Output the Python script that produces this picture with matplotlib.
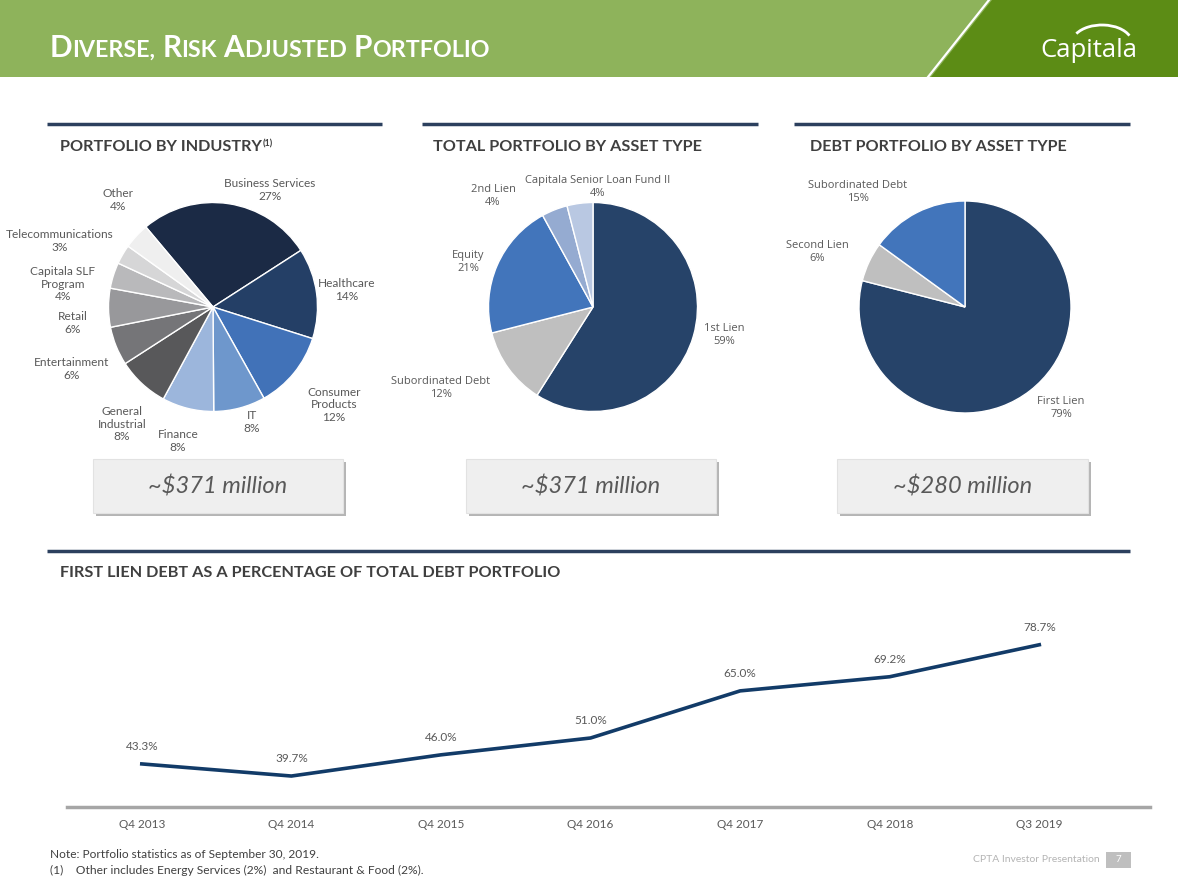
import matplotlib
matplotlib.use('Agg')
import matplotlib.pyplot as plt
from matplotlib.patches import Rectangle, Polygon, Arc

# ---- data ----
ind_names = ['Business Services', 'Healthcare', 'Consumer\nProducts', 'IT', 'Finance',
             'General\nIndustrial', 'Entertainment', 'Retail', 'Capitala SLF\nProgram',
             'Telecommunications', 'Other']
ind_pct = [27, 14, 12, 8, 8, 8, 6, 6, 4, 3, 4]

asset_names = ['1st Lien', 'Subordinated Debt', 'Equity', '2nd Lien', 'Capitala Senior Loan Fund II']
asset_pct = [59, 12, 21, 4, 4]

debt_names = ['First Lien', 'Second Lien', 'Subordinated Debt']
debt_pct = [79, 6, 15]

totals = ['~$371 million', '~$371 million', '~$280 million']

periods = ['Q4 2013', 'Q4 2014', 'Q4 2015', 'Q4 2016', 'Q4 2017', 'Q4 2018', 'Q3 2019']
first_lien = [43.3, 39.7, 46.0, 51.0, 65.0, 69.2, 78.7]

# ---- styles / layout ----
ind_colors = ['#1b2a45', '#243f66', '#4172b8', '#6e97cc', '#9cb6dc', '#58585a',
              '#757578', '#98989b', '#b9b9bb', '#d6d6d7', '#efefef']
asset_colors = ['#264369', '#bfbfbf', '#4275bb', '#95abd1', '#b9c8e2']
debt_colors = ['#264369', '#bfbfbf', '#4275bb']

# label offsets from pie centre, in pixels (dx right, dy up)
ind_lab = [(57, 117), (134, 17), (121, -98), (39, -115), (-35, -134), (-91, -117),
           (-141, -62), (-140, -16), (-150, 23), (-153, 66), (-95, 107)]
asset_lab = [(131, -28), (-152, -81), (-125, 45), (-100, 111), (5, 120)]
debt_lab = [(96, -101), (-148, 55), (-107, 115)]

W, H = 1178, 885
NAVY = '#2c405e'
GREY_TXT = '#595959'

fig = plt.figure(figsize=(W / 100, H / 100), dpi=100)
bg = fig.add_axes([0, 0, 1, 1])
bg.set_xlim(0, W)
bg.set_ylim(H, 0)
bg.axis('off')
fig.canvas.draw()
rend = fig.canvas.get_renderer()


def box(x0, y0, x1, y1):
    return [x0 / W, 1 - y1 / H, (x1 - x0) / W, (y1 - y0) / H]


def fit(x, y, s, width, size=10, **kw):
    t = bg.text(x, y, s, fontsize=size, **kw)
    w = t.get_window_extent(rend).width
    t.set_fontsize(size * width / w)
    return t


# header band
bg.add_patch(Rectangle((0, 0), W, 77, color='#8eb35b', lw=0))
bg.add_patch(Polygon([(931, 77), (992, 0), (W, 0), (W, 77)], color='#5c8c15', lw=0))
bg.plot([928, 989], [77, 0], color='white', lw=1.6)


def smallcaps(x, y, s, big):
    out = []
    cx = x
    for word in s.split(' '):
        for part, size in ((word[0], big), (word[1:].upper(), big * 0.78)):
            if not part:
                continue
            t = bg.text(cx, y, part, fontsize=size, va='baseline', color='white',
                        family='Lato', weight='bold')
            cx += t.get_window_extent(rend).width
            out.append(t)
        cx += big * 0.22 * 100 / 72
    return out, cx - x


txts, tw = smallcaps(50, 57, 'Diverse, Risk Adjusted Portfolio', 20)
for t in txts:
    t.remove()
smallcaps(50, 57, 'Diverse, Risk Adjusted Portfolio', 20 * 447 / tw)

# logo
fit(1040, 57, 'Capitala', 97, size=18, color='white', family='Open Sans', va='baseline')
bg.add_patch(Arc((1102, 43), 60, 36, theta1=200, theta2=345, color='white', lw=2))

# section rules and titles
for x0, x1 in [(47, 382), (422, 758), (794, 1130)]:
    bg.plot([x0, x1], [124, 124], color=NAVY, lw=2.5, solid_capstyle='butt')
bg.plot([47, 1130], [551, 551], color=NAVY, lw=2.5, solid_capstyle='butt')

tkw = dict(color='#3f3f3f', family='Lato', weight='bold', va='center')
fit(60, 147, 'PORTFOLIO BY INDUSTRY', 202, **tkw)
bg.text(263, 144, '(1)', fontsize=6.5, **tkw)
fit(433, 147, 'TOTAL PORTFOLIO BY ASSET TYPE', 270, **tkw)
fit(810, 147, 'DEBT PORTFOLIO BY ASSET TYPE', 258, **tkw)
fit(60, 573, 'FIRST LIEN DEBT AS A PERCENTAGE OF TOTAL DEBT PORTFOLIO', 500, **tkw)


def draw_pie(cx, cy, rad, vals, names, colors, offs, start, font, fs):
    ax = fig.add_axes(box(cx - 2 * rad, cy - 2 * rad, cx + 2 * rad, cy + 2 * rad))
    ax.pie(vals, colors=colors, startangle=start, counterclock=False,
           wedgeprops=dict(edgecolor='white', linewidth=1))
    ax.set_xlim(-2, 2)
    ax.set_ylim(-2, 2)
    ax.axis('off')
    for n, v, (dx, dy) in zip(names, vals, offs):
        ax.text(dx / rad, dy / rad, f'{n}\n{v}%', ha='center', va='center',
                fontsize=fs, color=GREY_TXT, family=font, linespacing=1.2)


draw_pie(213, 307, 104.5, ind_pct, ind_names, ind_colors, ind_lab, 130, 'Lato', 8.6)
draw_pie(593, 307, 104.5, asset_pct, asset_names, asset_colors, asset_lab, 90, 'Open Sans', 8)
draw_pie(965, 307, 106, debt_pct, debt_names, debt_colors, debt_lab, 90, 'Open Sans', 8)

# total boxes
for (x0, x1), s in zip([(93, 343), (466, 716), (837, 1088)], totals):
    bg.add_patch(Rectangle((x0 + 3, 462), x1 - x0, 54, color='#b5b5b5', lw=0))
    bg.add_patch(Rectangle((x0, 459), x1 - x0, 54, facecolor='#efefef', edgecolor='#e2e2e2', lw=0.8))
    bg.text((x0 + x1) / 2, 487, s, ha='center', va='center', fontsize=17,
            style='italic', color=GREY_TXT, family='Lato')

# line chart
ax = fig.add_axes(box(67, 600, 1150, 807))
xs = list(range(len(periods)))
ax.plot(xs, first_lien, color='#123b68', lw=2.6)
for i, v in enumerate(first_lien):
    ax.annotate(f'{v:.1f}%', (i, v), xytext=(0, 12.5), textcoords='offset points',
                ha='center', va='center', fontsize=8.5, color=GREY_TXT, family='Lato')
ax.set_xlim(-0.5, 6.74)
ax.set_ylim(30.5, 92)
ax.set_xticks(xs, periods)
ax.set_yticks([])
ax.tick_params(length=0, pad=9, labelsize=8.5, labelcolor=GREY_TXT)
for lab in ax.get_xticklabels():
    lab.set_family('Lato')
for s in ['top', 'left', 'right']:
    ax.spines[s].set_visible(False)
ax.spines['bottom'].set_color('#a6a6a6')
ax.spines['bottom'].set_linewidth(2.5)
ax.patch.set_alpha(0)

# footer
fkw = dict(color='#404040', family='Lato', va='center')
fit(50, 855, 'Note: Portfolio statistics as of September 30, 2019.', 268, **fkw)
fit(50, 870, '(1)    Other includes Energy Services (2%)  and Restaurant & Food (2%).', 371, **fkw)
fit(973, 860, 'CPTA Investor Presentation', 127, color='#b4b4b4', family='Lato', va='center')
bg.add_patch(Rectangle((1106, 852), 25, 16, color='#bfbfbf', lw=0))
bg.text(1118.5, 860, '7', ha='center', va='center', color='white', fontsize=7, family='Lato')

fig.savefig('out.png', dpi=100)
